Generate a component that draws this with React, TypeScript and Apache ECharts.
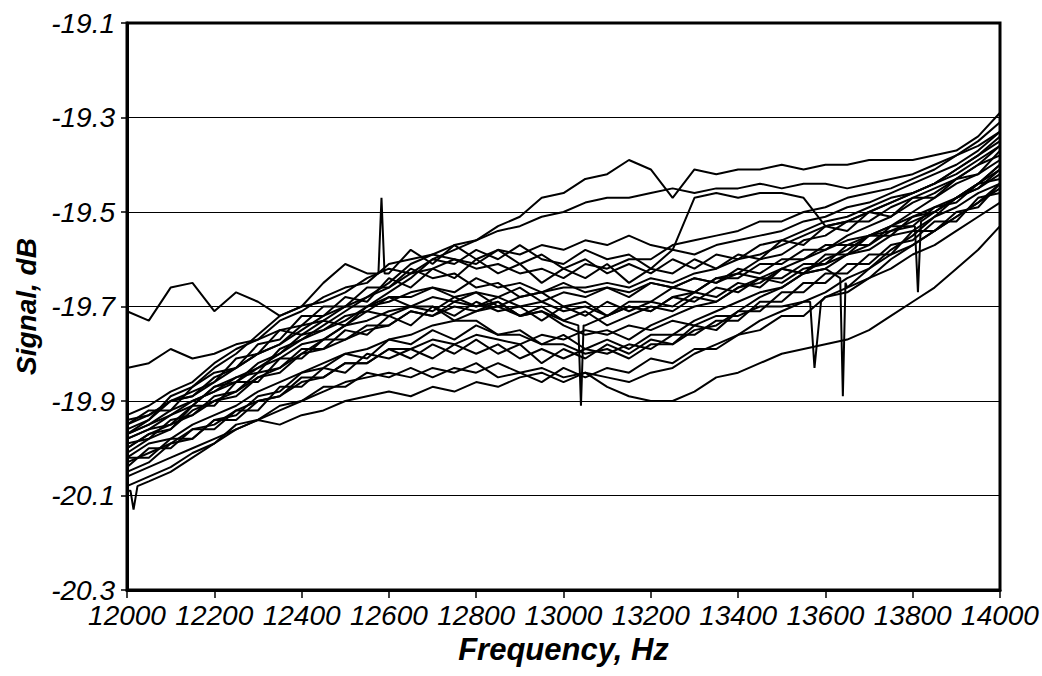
import React, { useEffect, useRef } from "react";
import * as echarts from "echarts";

// Frequency grid (Hz)
const freqs = [
  12000, 12050, 12100, 12150, 12200, 12250, 12300, 12350, 12400, 12450,
  12500, 12550, 12600, 12650, 12700, 12750, 12800, 12850, 12900, 12950,
  13000, 13050, 13100, 13150, 13200, 13250, 13300, 13350, 13400, 13450,
  13500, 13550, 13600, 13650, 13700, 13750, 13800, 13850, 13900, 13950,
  14000,
];

const yTicks = [-20.3, -20.1, -19.9, -19.7, -19.5, -19.3, -19.1];
const xTicks = [12000, 12200, 12400, 12600, 12800, 13000, 13200, 13400, 13600, 13800, 14000];

// Signal traces (dB), one per measurement
const traceA = [-19.71,-19.73,-19.66,-19.65,-19.71,-19.67,-19.69,-19.72,-19.70,-19.65,-19.61,-19.63,-19.63,-19.58,-19.61,-19.57,-19.60,-19.58,-19.61,-19.59,-19.62,-19.60,-19.63,-19.61,-19.63,-19.60,-19.62,-19.59,-19.60,-19.57,-19.56,-19.54,-19.52,-19.51,-19.49,-19.47,-19.46,-19.44,-19.42,-19.39,-19.36];
const traceB = [-19.83,-19.82,-19.79,-19.81,-19.80,-19.78,-19.77,-19.75,-19.76,-19.73,-19.74,-19.71,-19.72,-19.70,-19.71,-19.68,-19.70,-19.69,-19.72,-19.70,-19.73,-19.71,-19.74,-19.72,-19.70,-19.71,-19.68,-19.69,-19.66,-19.64,-19.65,-19.62,-19.61,-19.59,-19.58,-19.55,-19.54,-19.51,-19.49,-19.46,-19.44];
const traceC = [-19.97,-19.95,-19.92,-19.90,-19.88,-19.85,-19.83,-19.80,-19.77,-19.74,-19.71,-19.68,-19.65,-19.61,-19.59,-19.57,-19.56,-19.53,-19.51,-19.47,-19.46,-19.43,-19.42,-19.39,-19.41,-19.47,-19.41,-19.42,-19.41,-19.41,-19.40,-19.41,-19.40,-19.40,-19.39,-19.39,-19.39,-19.38,-19.37,-19.34,-19.29];
const traceD = [-20.00,-19.97,-19.95,-19.93,-19.90,-19.88,-19.85,-19.83,-19.80,-19.77,-19.74,-19.70,-19.67,-19.64,-19.60,-19.58,-19.56,-19.54,-19.53,-19.51,-19.50,-19.48,-19.47,-19.47,-19.46,-19.45,-19.46,-19.45,-19.45,-19.44,-19.45,-19.44,-19.44,-19.45,-19.44,-19.43,-19.42,-19.40,-19.38,-19.36,-19.33];
const traceE = [-19.95,-19.93,-19.90,-19.88,-19.86,-19.83,-19.80,-19.78,-19.75,-19.72,-19.70,-19.68,-19.66,-19.63,-19.62,-19.60,-19.61,-19.58,-19.59,-19.57,-19.58,-19.56,-19.57,-19.55,-19.57,-19.58,-19.47,-19.46,-19.47,-19.46,-19.46,-19.47,-19.53,-19.52,-19.50,-19.48,-19.46,-19.44,-19.41,-19.38,-19.35];
const traceL = [-20.09,-20.07,-20.05,-20.02,-19.99,-19.95,-19.94,-19.95,-19.93,-19.92,-19.90,-19.89,-19.88,-19.89,-19.87,-19.88,-19.86,-19.87,-19.85,-19.84,-19.86,-19.84,-19.87,-19.89,-19.90,-19.90,-19.88,-19.85,-19.84,-19.82,-19.80,-19.79,-19.78,-19.77,-19.75,-19.72,-19.69,-19.66,-19.62,-19.58,-19.53];
const traceU1 = [-19.95,-19.92,-19.92,-19.87,-19.84,-19.83,-19.78,-19.77,-19.72,-19.72,-19.68,-19.69,-19.64,-19.66,-19.62,-19.64,-19.60,-19.63,-19.61,-19.65,-19.62,-19.64,-19.61,-19.65,-19.62,-19.63,-19.60,-19.62,-19.59,-19.60,-19.56,-19.57,-19.53,-19.54,-19.50,-19.51,-19.47,-19.47,-19.43,-19.42,-19.37];
const traceU2 = [-19.97,-19.94,-19.89,-19.87,-19.83,-19.80,-19.76,-19.72,-19.70,-19.69,-19.67,-19.64,-19.62,-19.63,-19.60,-19.61,-19.58,-19.60,-19.57,-19.60,-19.61,-19.58,-19.60,-19.59,-19.62,-19.58,-19.59,-19.57,-19.56,-19.55,-19.54,-19.52,-19.51,-19.49,-19.48,-19.46,-19.44,-19.42,-19.40,-19.37,-19.33];
const traceU3 = [-19.98,-19.96,-19.93,-19.91,-19.87,-19.86,-19.82,-19.80,-19.76,-19.75,-19.72,-19.71,-19.68,-19.68,-19.66,-19.67,-19.64,-19.66,-19.65,-19.67,-19.65,-19.67,-19.66,-19.68,-19.65,-19.66,-19.64,-19.65,-19.62,-19.63,-19.60,-19.60,-19.57,-19.57,-19.55,-19.53,-19.51,-19.49,-19.47,-19.44,-19.41];
const traceU4 = [-19.94,-19.93,-19.90,-19.89,-19.86,-19.81,-19.80,-19.75,-19.74,-19.70,-19.70,-19.66,-19.66,-19.62,-19.64,-19.63,-19.66,-19.65,-19.68,-19.67,-19.70,-19.69,-19.72,-19.70,-19.71,-19.68,-19.67,-19.64,-19.63,-19.60,-19.59,-19.56,-19.55,-19.52,-19.52,-19.49,-19.47,-19.45,-19.43,-19.40,-19.36];
const traceU5 = [-19.93,-19.91,-19.88,-19.86,-19.82,-19.79,-19.77,-19.73,-19.71,-19.68,-19.66,-19.65,-19.61,-19.60,-19.59,-19.60,-19.62,-19.61,-19.63,-19.62,-19.64,-19.61,-19.62,-19.60,-19.60,-19.57,-19.56,-19.55,-19.54,-19.52,-19.52,-19.50,-19.49,-19.47,-19.46,-19.45,-19.43,-19.41,-19.38,-19.35,-19.31];
const traceM1 = [-19.99,-19.98,-19.94,-19.93,-19.89,-19.88,-19.84,-19.83,-19.79,-19.79,-19.75,-19.76,-19.72,-19.74,-19.70,-19.72,-19.69,-19.71,-19.70,-19.73,-19.70,-19.72,-19.69,-19.71,-19.69,-19.70,-19.67,-19.68,-19.65,-19.66,-19.62,-19.63,-19.59,-19.59,-19.55,-19.55,-19.51,-19.50,-19.47,-19.45,-19.41];
const traceM2 = [-20.01,-19.98,-19.96,-19.91,-19.91,-19.86,-19.86,-19.81,-19.81,-19.77,-19.77,-19.74,-19.74,-19.71,-19.72,-19.70,-19.71,-19.69,-19.72,-19.71,-19.73,-19.74,-19.72,-19.70,-19.71,-19.68,-19.69,-19.66,-19.67,-19.64,-19.64,-19.61,-19.61,-19.57,-19.57,-19.53,-19.53,-19.49,-19.48,-19.44,-19.43];
const traceM3 = [-19.97,-19.95,-19.93,-19.90,-19.88,-19.86,-19.83,-19.81,-19.78,-19.77,-19.74,-19.73,-19.71,-19.70,-19.68,-19.69,-19.67,-19.68,-19.66,-19.69,-19.67,-19.68,-19.66,-19.67,-19.65,-19.66,-19.64,-19.65,-19.63,-19.64,-19.62,-19.63,-19.62,-19.66,-19.62,-19.58,-19.55,-19.51,-19.47,-19.44,-19.40];
const traceM4 = [-20.00,-19.97,-19.96,-19.92,-19.90,-19.89,-19.85,-19.84,-19.80,-19.79,-19.77,-19.75,-19.74,-19.71,-19.72,-19.69,-19.70,-19.68,-19.70,-19.69,-19.71,-19.70,-19.72,-19.69,-19.69,-19.66,-19.67,-19.64,-19.64,-19.61,-19.61,-19.58,-19.58,-19.56,-19.55,-19.54,-19.53,-19.50,-19.47,-19.44,-19.40];
const traceM5 = [-19.96,-19.94,-19.90,-19.89,-19.85,-19.83,-19.80,-19.78,-19.74,-19.73,-19.70,-19.70,-19.68,-19.70,-19.70,-19.73,-19.73,-19.76,-19.76,-19.78,-19.78,-19.80,-19.79,-19.81,-19.78,-19.78,-19.75,-19.74,-19.71,-19.68,-19.66,-19.63,-19.60,-19.58,-19.55,-19.53,-19.50,-19.47,-19.44,-19.42,-19.39];
const traceM6 = [-20.02,-19.99,-19.98,-19.95,-19.93,-19.91,-19.88,-19.86,-19.84,-19.82,-19.80,-19.79,-19.77,-19.76,-19.74,-19.73,-19.71,-19.70,-19.68,-19.67,-19.66,-19.66,-19.65,-19.66,-19.64,-19.65,-19.63,-19.62,-19.60,-19.59,-19.57,-19.55,-19.53,-19.52,-19.50,-19.48,-19.46,-19.44,-19.41,-19.38,-19.34];
const traceM7 = [-19.98,-19.96,-19.95,-19.91,-19.87,-19.85,-19.84,-19.79,-19.77,-19.75,-19.73,-19.70,-19.69,-19.67,-19.66,-19.68,-19.67,-19.70,-19.72,-19.71,-19.74,-19.76,-19.75,-19.77,-19.74,-19.72,-19.70,-19.69,-19.66,-19.65,-19.62,-19.60,-19.58,-19.55,-19.53,-19.51,-19.48,-19.46,-19.43,-19.40,-19.38];
const traceLo1 = [-20.04,-20.00,-20.00,-19.96,-19.96,-19.92,-19.92,-19.87,-19.87,-19.83,-19.84,-19.80,-19.81,-19.79,-19.81,-19.78,-19.80,-19.78,-19.81,-19.79,-19.81,-19.79,-19.80,-19.78,-19.79,-19.76,-19.76,-19.73,-19.73,-19.69,-19.69,-19.65,-19.65,-19.61,-19.61,-19.57,-19.56,-19.52,-19.52,-19.47,-19.46];
const traceLo2 = [-20.02,-20.02,-19.98,-19.98,-19.94,-19.94,-19.90,-19.89,-19.85,-19.85,-19.82,-19.82,-19.79,-19.81,-19.78,-19.80,-19.77,-19.80,-19.78,-19.82,-19.79,-19.81,-19.78,-19.80,-19.77,-19.78,-19.74,-19.75,-19.71,-19.71,-19.67,-19.67,-19.63,-19.63,-19.59,-19.59,-19.54,-19.54,-19.50,-19.49,-19.44];
const traceLo3 = [-20.06,-20.04,-20.02,-20.00,-19.98,-19.96,-19.94,-19.92,-19.90,-19.88,-19.86,-19.85,-19.84,-19.85,-19.83,-19.84,-19.82,-19.85,-19.84,-19.86,-19.83,-19.85,-19.83,-19.84,-19.81,-19.82,-19.79,-19.79,-19.76,-19.75,-19.72,-19.72,-19.68,-19.67,-19.64,-19.62,-19.59,-19.57,-19.54,-19.51,-19.48];
const traceLo4 = [-20.03,-20.01,-19.99,-19.96,-19.95,-19.92,-19.90,-19.89,-19.86,-19.85,-19.82,-19.82,-19.79,-19.79,-19.77,-19.78,-19.76,-19.77,-19.78,-19.76,-19.77,-19.75,-19.76,-19.74,-19.75,-19.73,-19.74,-19.72,-19.72,-19.70,-19.70,-19.69,-19.68,-19.66,-19.64,-19.60,-19.57,-19.54,-19.51,-19.48,-19.44];
const traceLo5 = [-20.08,-20.06,-20.04,-20.01,-19.99,-19.96,-19.94,-19.91,-19.90,-19.87,-19.87,-19.84,-19.85,-19.83,-19.85,-19.83,-19.84,-19.82,-19.84,-19.83,-19.85,-19.84,-19.85,-19.86,-19.84,-19.83,-19.80,-19.78,-19.76,-19.73,-19.71,-19.69,-19.67,-19.64,-19.62,-19.59,-19.57,-19.54,-19.51,-19.48,-19.45];
const traceLo6 = [-20.05,-20.03,-19.99,-19.98,-19.94,-19.93,-19.89,-19.88,-19.84,-19.83,-19.80,-19.81,-19.77,-19.78,-19.75,-19.77,-19.74,-19.76,-19.75,-19.78,-19.76,-19.79,-19.77,-19.79,-19.76,-19.76,-19.73,-19.71,-19.69,-19.67,-19.66,-19.63,-19.62,-19.59,-19.57,-19.54,-19.52,-19.50,-19.47,-19.45,-19.42];

// Narrow glitches: [frequency, dB]
const spikesA = [[12576, -19.63], [12583, -19.47], [12590, -19.63]];
const spikesL = [[12008, -20.09], [12015, -20.13], [12024, -20.08]];
const spikesM2 = [[13034, -19.74], [13040, -19.91], [13046, -19.74]];
const spikesM3 = [[13634, -19.64], [13640, -19.89], [13646, -19.65]];
const spikesM4 = [[13805, -19.53], [13812, -19.67], [13819, -19.52]];
const spikesLo4 = [[13565, -19.69], [13575, -19.83], [13590, -19.69]];

const traces: { vals: number[]; spikes: number[][] }[] = [
  { vals: traceA, spikes: spikesA },
  { vals: traceB, spikes: [] },
  { vals: traceC, spikes: [] },
  { vals: traceD, spikes: [] },
  { vals: traceE, spikes: [] },
  { vals: traceL, spikes: spikesL },
  { vals: traceU1, spikes: [] },
  { vals: traceU2, spikes: [] },
  { vals: traceU3, spikes: [] },
  { vals: traceU4, spikes: [] },
  { vals: traceU5, spikes: [] },
  { vals: traceM1, spikes: [] },
  { vals: traceM2, spikes: spikesM2 },
  { vals: traceM3, spikes: spikesM3 },
  { vals: traceM4, spikes: spikesM4 },
  { vals: traceM5, spikes: [] },
  { vals: traceM6, spikes: [] },
  { vals: traceM7, spikes: [] },
  { vals: traceLo1, spikes: [] },
  { vals: traceLo2, spikes: [] },
  { vals: traceLo3, spikes: [] },
  { vals: traceLo4, spikes: spikesLo4 },
  { vals: traceLo5, spikes: [] },
  { vals: traceLo6, spikes: [] },
];

const FONT = "'Liberation Sans', Arial, sans-serif";

export default function App() {
  const ref = useRef<HTMLDivElement>(null);
  useEffect(() => {
    if (!ref.current) return;
    const chart = echarts.init(ref.current, undefined, { renderer: "svg" });
    const series = traces.map((t, k) => {
      const pts = freqs.map((f, i) => [f, t.vals[i]]).concat(t.spikes);
      pts.sort((a, b) => a[0] - b[0]);
      return {
        name: "trace" + (k + 1),
        type: "line",
        data: pts,
        showSymbol: false,
        symbol: "none",
        silent: true,
        lineStyle: { color: "#000", width: 2 },
      };
    });
    chart.setOption({
      animation: false,
      backgroundColor: "#fff",
      grid: {
        left: 127,
        right: 42,
        top: 23,
        bottom: 86,
        show: true,
        borderColor: "#000",
        borderWidth: 3,
        backgroundColor: "transparent",
      },
      xAxis: {
        type: "value",
        min: xTicks[0],
        max: xTicks[xTicks.length - 1],
        interval: 200,
        name: "Frequency, Hz",
        nameLocation: "middle",
        nameGap: 40,
        nameTextStyle: { fontFamily: FONT, fontSize: 31, fontWeight: "bold", fontStyle: "italic", color: "#000" },
        axisLine: { lineStyle: { color: "#000", width: 3 } },
        axisTick: { show: true, length: 8, lineStyle: { color: "#000", width: 1.5 } },
        axisLabel: {
          fontFamily: FONT,
          fontSize: 28,
          fontStyle: "italic",
          color: "#000",
          margin: 11,
          interval: 0,
          hideOverlap: false,
          showMinLabel: true,
          showMaxLabel: true,
          formatter: (v: number) => String(v),
        },
        splitLine: { show: false },
      },
      yAxis: {
        type: "value",
        min: yTicks[0],
        max: yTicks[yTicks.length - 1],
        interval: 0.2,
        name: "Signal, dB",
        nameLocation: "middle",
        nameGap: 86,
        nameRotate: 90,
        nameTextStyle: { fontFamily: FONT, fontSize: 28, fontWeight: "bold", fontStyle: "italic", color: "#000" },
        axisLine: { show: true, lineStyle: { color: "#000", width: 3 } },
        axisTick: { show: true, length: 6, lineStyle: { color: "#000", width: 1.5 } },
        axisLabel: {
          fontFamily: FONT,
          fontSize: 28,
          fontStyle: "italic",
          color: "#000",
          margin: 12,
          showMinLabel: true,
          showMaxLabel: true,
          formatter: (v: number) => v.toFixed(1),
        },
        splitLine: { show: true, lineStyle: { color: "#000", width: 1.2 } },
      },
      series,
    });
    return () => chart.dispose();
  }, []);
  return (
    <div
      ref={ref}
      style={{ position: "fixed", left: 0, top: 0, width: 1042, height: 676, background: "#fff" }}
    />
  );
}
